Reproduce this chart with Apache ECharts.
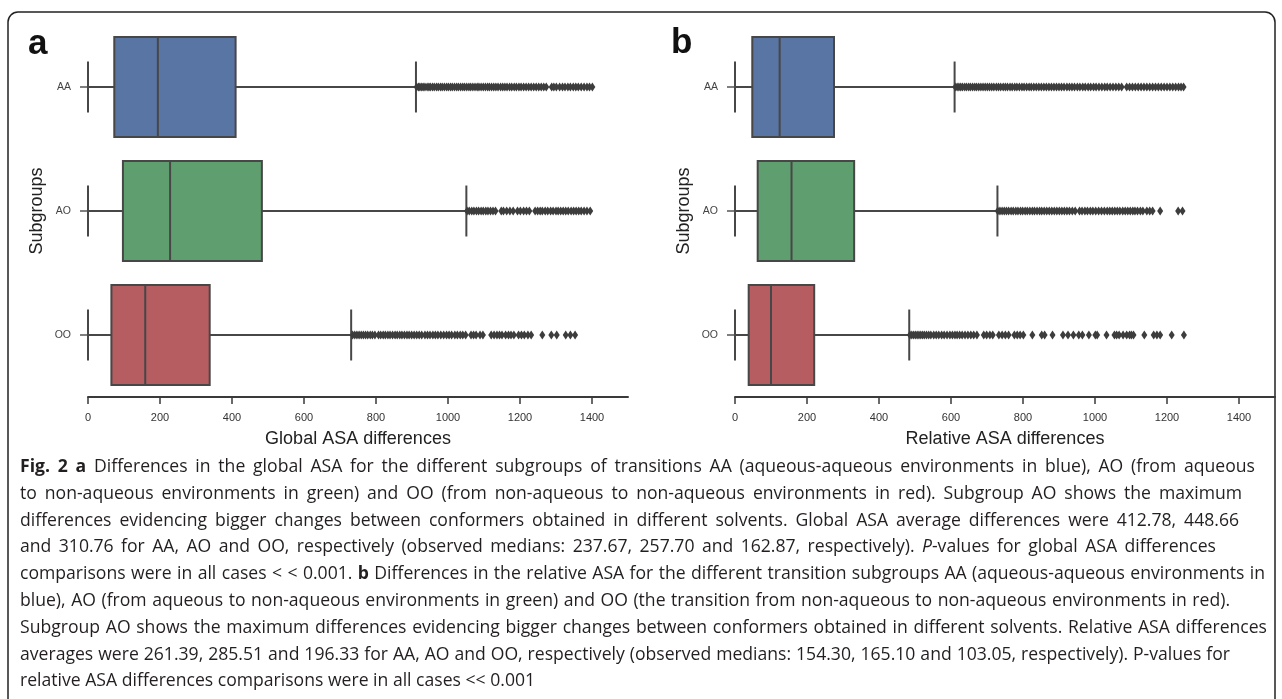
<!DOCTYPE html>
<html>
<head>
<meta charset="utf-8">
<script src="https://cdn.jsdelivr.net/npm/echarts@6/dist/echarts.min.js"></script>
<style>
html,body{margin:0;padding:0;background:#fff;}
#chart{width:1282px;height:699px;}
</style>
</head>
<body>
<div id="chart"></div>
<script>
// ---------- DATA ----------
const categories = ['AA', 'AO', 'OO'];
const tickValues = [0, 200, 400, 600, 800, 1000, 1200, 1400];

// Panel a: Global ASA differences (whisker low, Q1, median, Q3, whisker high)
const globalLow = [0, 0, 0];
const globalQ1 = [73, 97, 65];
const globalMedian = [194, 228, 159];
const globalQ3 = [410, 483, 338];
const globalHigh = [911, 1051, 731];

const globalOutAA = [913, 918, 922, 927, 931, 936, 942, 947, 951, 957, 962, 968, 973, 979, 984, 990, 996, 1001, 1007, 1012, 1018, 1024, 1029, 1035, 1041, 1046, 1052, 1058, 1063, 1069, 1075, 1081, 1086, 1092, 1098, 1104, 1110, 1115, 1121, 1127, 1133, 1139, 1146, 1152, 1158, 1164, 1171, 1177, 1184, 1190, 1197, 1203, 1210, 1217, 1224, 1231, 1238, 1245, 1252, 1259, 1266, 1273, 1288, 1294, 1301, 1310, 1318, 1325, 1333, 1340, 1348, 1355, 1362, 1370, 1378, 1386, 1393, 1401];
const globalOutAO = [1053, 1059, 1066, 1072, 1079, 1085, 1092, 1098, 1105, 1111, 1118, 1125, 1132, 1148, 1154, 1163, 1172, 1181, 1193, 1201, 1210, 1218, 1226, 1242, 1249, 1256, 1262, 1270, 1277, 1285, 1292, 1300, 1306, 1313, 1320, 1327, 1334, 1342, 1349, 1356, 1363, 1370, 1378, 1386, 1395];
const globalOutOO = [735, 741, 747, 753, 759, 765, 771, 777, 784, 790, 797, 807, 813, 820, 826, 833, 839, 846, 853, 859, 866, 872, 879, 886, 892, 899, 906, 913, 920, 927, 936, 943, 950, 958, 965, 972, 980, 988, 996, 1003, 1010, 1019, 1026, 1034, 1041, 1049, 1064, 1071, 1078, 1089, 1097, 1120, 1128, 1136, 1143, 1150, 1160, 1168, 1175, 1183, 1196, 1204, 1212, 1222, 1231, 1262, 1287, 1302, 1327, 1340, 1353];

// Panel b: Relative ASA differences
const relLow = [0, 0, 0];
const relQ1 = [48, 63, 38];
const relMedian = [124, 157, 100];
const relQ3 = [275, 331, 220];
const relHigh = [610, 729, 484];

const relOutAA = [612, 617, 622, 627, 632, 638, 643, 649, 654, 660, 666, 671, 677, 683, 689, 695, 701, 707, 713, 719, 726, 732, 738, 745, 751, 757, 764, 770, 777, 783, 790, 797, 803, 810, 817, 823, 830, 837, 844, 851, 858, 865, 872, 879, 886, 893, 900, 907, 914, 922, 929, 936, 943, 951, 958, 966, 973, 981, 988, 996, 1003, 1011, 1019, 1027, 1034, 1042, 1050, 1058, 1066, 1074, 1088, 1096, 1104, 1112, 1120, 1128, 1136, 1144, 1152, 1160, 1168, 1176, 1184, 1192, 1200, 1208, 1216, 1224, 1232, 1239, 1246];
const relOutAO = [730, 736, 742, 748, 754, 760, 767, 773, 780, 786, 793, 799, 806, 812, 819, 826, 832, 839, 846, 852, 859, 866, 873, 880, 887, 894, 901, 908, 915, 922, 929, 937, 945, 957, 964, 972, 979, 987, 994, 1002, 1010, 1018, 1026, 1034, 1041, 1048, 1055, 1062, 1069, 1077, 1084, 1091, 1098, 1105, 1111, 1118, 1126, 1133, 1144, 1152, 1160, 1181, 1231, 1243];
const relOutOO = [486, 491, 496, 501, 506, 511, 516, 521, 526, 532, 538, 544, 552, 559, 566, 574, 581, 589, 597, 604, 611, 617, 624, 631, 639, 647, 655, 663, 672, 691, 699, 708, 716, 733, 742, 751, 760, 776, 784, 792, 801, 826, 852, 860, 882, 911, 925, 940, 955, 965, 983, 1001, 1006, 1032, 1054, 1060, 1067, 1078, 1088, 1096, 1101, 1107, 1137, 1163, 1172, 1181, 1213, 1247];

const captionLines = [
  '{b|Fig.} {b|2} {b|a} Differences in the global ASA for the different subgroups of transitions AA (aqueous-aqueous environments in blue), AO (from aqueous',
  'to non-aqueous environments in green) and OO (from non-aqueous to non-aqueous environments in red). Subgroup AO shows the maximum',
  'differences evidencing bigger changes between conformers obtained in different solvents. Global ASA average differences were 412.78, 448.66',
  'and 310.76 for AA, AO and OO, respectively (observed medians: 237.67, 257.70 and 162.87, respectively). {i|P}-values for global ASA differences',
  'comparisons were in all cases < < 0.001. {b|b} Differences in the relative ASA for the different transition subgroups AA (aqueous-aqueous environments in',
  'blue), AO (from aqueous to non-aqueous environments in green) and OO (the transition from non-aqueous to non-aqueous environments in red).',
  'Subgroup AO shows the maximum differences evidencing bigger changes between conformers obtained in different solvents. Relative ASA differences',
  'averages were 261.39, 285.51 and 196.33 for AA, AO and OO, respectively (observed medians: 154.30, 165.10 and 103.05, respectively). P-values for',
  'relative ASA differences comparisons were in all cases << 0.001'
];

// ---------- STYLE / LAYOUT ----------
const boxColors = ['#5975a4', '#5f9e6e', '#b55d60'];
const lineGray = '#474747';
const axisFont = 'Liberation Sans, Arial, sans-serif';
const capFamily = 'Open Sans';
const capSize = 17.6;
const capLeft = 20, capTop = 467, capStep = 26.8;
// right end of each caption line as seen in the picture (null = natural spacing)
const capLineEnds = [1255, 1242, 1239, 1216, 1265, 1230, 1267, 1230, null];

function boxData(low, q1, med, q3, high) {
  return categories.map((c, i) => [i, low[i], q1[i], med[i], q3[i], high[i]]);
}

function renderBox(params, api) {
  const cat = api.value(0);
  const lo = api.coord([api.value(1), cat]);
  const q1 = api.coord([api.value(2), cat]);
  const md = api.coord([api.value(3), cat]);
  const q3 = api.coord([api.value(4), cat]);
  const hi = api.coord([api.value(5), cat]);
  const band = api.size([0, 1])[1];
  const h = band * 0.806;
  const cy = md[1];
  const capH = h * 0.255;
  const ls = {stroke: lineGray, lineWidth: 2};
  return {
    type: 'group',
    children: [
      {type: 'line', shape: {x1: lo[0], y1: cy, x2: q1[0], y2: cy}, style: ls},
      {type: 'line', shape: {x1: q3[0], y1: cy, x2: hi[0], y2: cy}, style: ls},
      {type: 'line', shape: {x1: lo[0], y1: cy - capH, x2: lo[0], y2: cy + capH}, style: ls},
      {type: 'line', shape: {x1: hi[0], y1: cy - capH, x2: hi[0], y2: cy + capH}, style: ls},
      {type: 'rect', shape: {x: q1[0], y: cy - h / 2, width: q3[0] - q1[0], height: h},
        style: {fill: boxColors[cat], stroke: lineGray, lineWidth: 2}},
      {type: 'line', shape: {x1: md[0], y1: cy - h / 2, x2: md[0], y2: cy + h / 2}, style: ls}
    ]
  };
}

function xAxisCfg(idx, name) {
  return {
    type: 'value', gridIndex: idx, min: 0, max: 1500,
    name: name, nameLocation: 'middle', nameGap: 33,
    nameTextStyle: {fontFamily: axisFont, fontSize: 18, color: '#222'},
    axisLine: {show: true, lineStyle: {color: '#3a3a3a', width: 2}},
    axisTick: {show: true, length: 7, customValues: tickValues, lineStyle: {color: '#3a3a3a', width: 1.5}},
    axisLabel: {customValues: tickValues, formatter: v => String(v), fontFamily: axisFont, fontSize: 11, color: '#333', margin: 15},
    splitLine: {show: false}
  };
}
function yAxisCfg(idx) {
  return {
    type: 'category', gridIndex: idx, data: categories, inverse: true,
    name: 'Subgroups', nameLocation: 'middle', nameGap: 42, nameRotate: 90,
    nameTextStyle: {fontFamily: axisFont, fontSize: 18, color: '#222'},
    axisLine: {show: false},
    axisTick: {show: true, alignWithLabel: true, length: 8, lineStyle: {color: '#555', width: 1.5}},
    axisLabel: {fontFamily: axisFont, fontSize: 10.5, color: '#444', margin: 17},
    splitLine: {show: false}
  };
}
function outSeries(xi, vals, cat) {
  return {
    type: 'scatter', xAxisIndex: xi, yAxisIndex: xi, z: 5,
    symbol: 'diamond', symbolSize: [6, 9],
    itemStyle: {color: '#3d3d3d', opacity: 1},
    data: vals.map(v => [v, cat]), silent: true
  };
}

// ---------- CAPTION (word by word so each line ends where the picture's does) ----------
const measureCtx = document.createElement('canvas').getContext('2d');
function segFont(s) {
  return (s === 'i' ? 'italic ' : '') + (s === 'b' ? 'bold ' : '') + capSize + 'px "' + capFamily + '"';
}
function wordWidth(word) {
  const re = /\{(\w)\|([^}]*)\}|([^{]+)/g;
  let m, w = 0;
  while ((m = re.exec(word))) {
    const s = m[3] !== undefined ? '' : m[1];
    const t = m[3] !== undefined ? m[3] : m[2];
    measureCtx.font = segFont(s);
    w += measureCtx.measureText(t).width;
  }
  return w;
}
const capRich = {
  b: {fontFamily: capFamily, fontSize: capSize, fontWeight: 'bold', fill: '#231f20'},
  i: {fontFamily: capFamily, fontSize: capSize, fontStyle: 'italic', fill: '#231f20'}
};
const captionGraphics = [];
captionLines.forEach((line, li) => {
  const words = line.split(' ');
  const widths = words.map(wordWidth);
  const total = widths.reduce((a, b) => a + b, 0);
  measureCtx.font = segFont('');
  const end = capLineEnds[li];
  const gap = end == null ? measureCtx.measureText(' ').width : (end - capLeft - total) / (words.length - 1);
  let x = capLeft;
  words.forEach((w, wi) => {
    captionGraphics.push({
      type: 'text', x: x, y: capTop + li * capStep, silent: true,
      style: {text: w, fontFamily: capFamily, fontSize: capSize, fill: '#231f20',
        verticalAlign: 'middle', align: 'left', rich: capRich}
    });
    x += widths[wi] + gap;
  });
});

const chart = echarts.init(document.getElementById('chart'), null, {renderer: 'canvas'});
chart.setOption({
  animation: false,
  backgroundColor: '#fff',
  grid: [
    {left: 88, top: 25, width: 540, height: 372},
    {left: 735, top: 25, width: 540, height: 372}
  ],
  xAxis: [xAxisCfg(0, 'Global ASA differences'), xAxisCfg(1, 'Relative ASA differences')],
  yAxis: [yAxisCfg(0), yAxisCfg(1)],
  series: [
    {type: 'custom', xAxisIndex: 0, yAxisIndex: 0, renderItem: renderBox,
      encode: {x: [1, 2, 3, 4, 5], y: 0}, data: boxData(globalLow, globalQ1, globalMedian, globalQ3, globalHigh)},
    {type: 'custom', xAxisIndex: 1, yAxisIndex: 1, renderItem: renderBox,
      encode: {x: [1, 2, 3, 4, 5], y: 0}, data: boxData(relLow, relQ1, relMedian, relQ3, relHigh)},
    outSeries(0, globalOutAA, 0), outSeries(0, globalOutAO, 1), outSeries(0, globalOutOO, 2),
    outSeries(1, relOutAA, 0), outSeries(1, relOutAO, 1), outSeries(1, relOutOO, 2)
  ],
  graphic: [
    {type: 'rect', shape: {x: 8, y: 12, width: 1267, height: 720, r: 10},
      style: {fill: 'none', stroke: '#222', lineWidth: 1.5}, silent: true},
    {type: 'text', left: 28, top: 27, style: {text: 'a', fontFamily: axisFont, fontWeight: 'bold', fontSize: 35, fill: '#111'}},
    {type: 'text', left: 671, top: 26, style: {text: 'b', fontFamily: axisFont, fontWeight: 'bold', fontSize: 35, fill: '#111'}}
  ].concat(captionGraphics)
});
</script>
</body>
</html>
